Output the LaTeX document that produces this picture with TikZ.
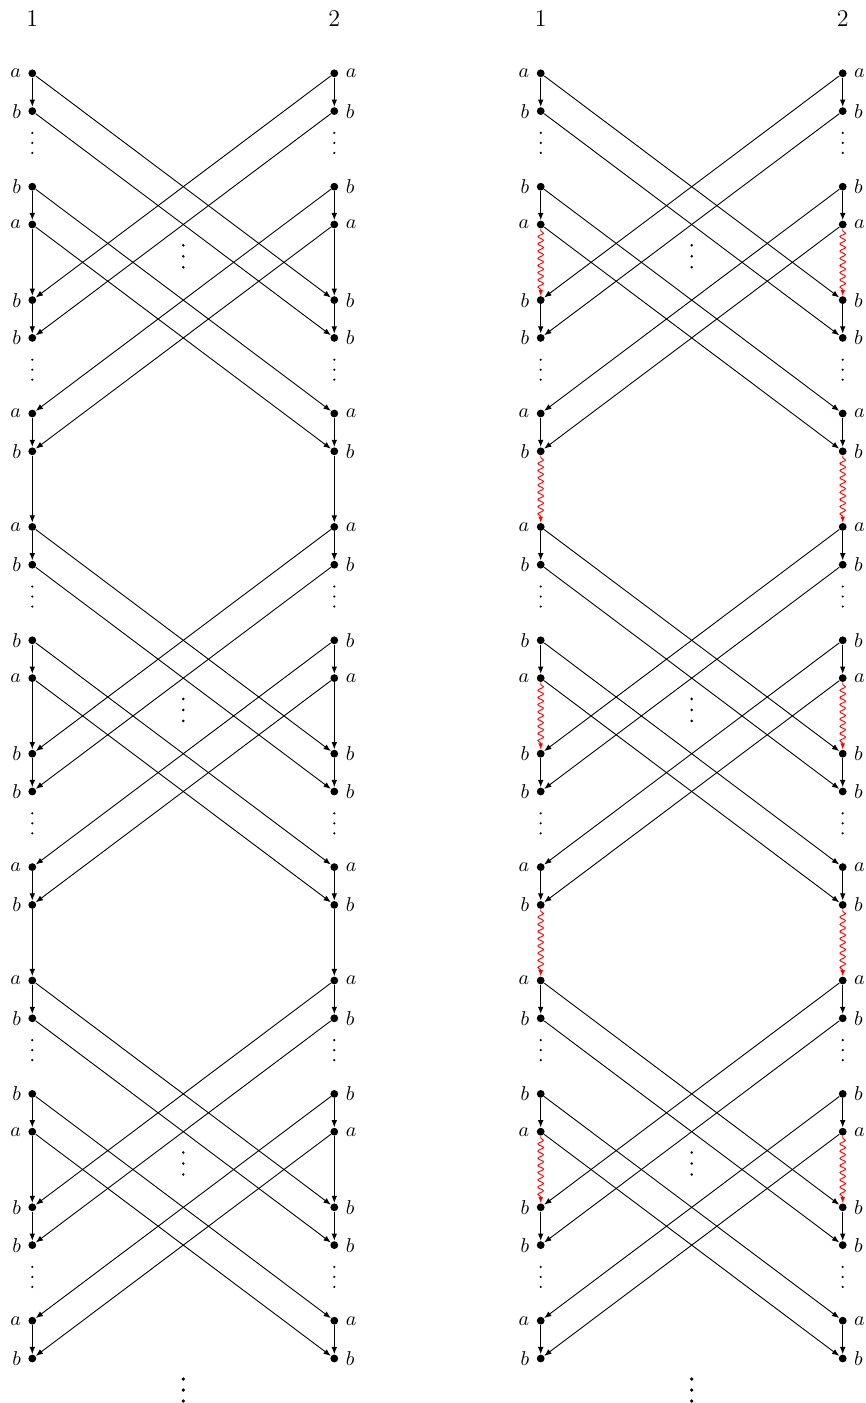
\documentclass[tikz,border=0pt]{standalone}
\usetikzlibrary{arrows.meta,calc,positioning,decorations.pathmorphing}

\newcommand{\drawladder}[3]{%
  % #1: name prefix, #2: x of column 1, #3: style of the long steps
  \node[font=\large] (#1h1) at (#2,18.5) {1};
  \node[font=\large] (#1h2) at ({#2+302},18.5) {2};
  \foreach \k/\lab in {0/a,1/b,3/b,4/a,6/b,7/b,9/a,10/b,12/a,13/b,15/b,16/a,
                       18/b,19/b,21/a,22/b,24/a,25/b,27/b,28/a,30/b,31/b,33/a,34/b}
  {
    \node[vtx,label=left:$\lab$] (#1a\k) at (#2,{73.3+37.8*\k}) {};
    \node[vtx,label=right:$\lab$] (#1b\k) at ({#2+302},{73.3+37.8*\k}) {};
  }
  % steps down each column
  \foreach \k in {0,3,...,33}
  {
    \pgfmathtruncatemacro\nxt{\k+1}
    \draw[->] (#1a\k) -- (#1a\nxt);
    \draw[->] (#1b\k) -- (#1b\nxt);
  }
  \foreach \k in {4,10,...,28}
  {
    \pgfmathtruncatemacro\nxt{\k+2}
    \draw[#3] (#1a\k) -- (#1a\nxt);
    \draw[#3] (#1b\k) -- (#1b\nxt);
  }
  % crossing messages
  \foreach \k in {0,1,3,4,12,13,15,16,24,25,27,28}
  {
    \pgfmathtruncatemacro\nxt{\k+6}
    \draw[->] (#1a\k) -- (#1b\nxt);
    \draw[->] (#1b\k) -- (#1a\nxt);
  }
  % dots
  \foreach \k in {2,8,...,32}
    \foreach \d in {-10,0,10}
    {
      \fill (#2,{67.3+37.8*\k+\d}) circle (0.6pt);
      \fill ({#2+302},{67.3+37.8*\k+\d}) circle (0.6pt);
    }
  \foreach \k in {5,17,29}
    \foreach \d in {-11,0,11}
      \fill ({#2+151},{67.3+37.8*\k+\d}) circle (0.7pt);
  \foreach \d in {-11,0,11}
    \fill ({#2+151},{1390+\d}) circle (0.9pt);
}

\begin{document}
\begin{tikzpicture}[
  x=0.5pt,y=-0.5pt,
  >={Latex[length=3.6pt,width=2.8pt]},
  line width=0.45pt,
  vtx/.style={circle,fill,inner sep=0pt,minimum size=3.9pt},
  snakearr/.style={red,-{Latex[length=3pt,width=2.4pt]},decorate,
    decoration={snake,amplitude=1.4pt,segment length=3.6pt,
      pre length=1pt,post length=3pt}}
]%
  \useasboundingbox (0,0) rectangle (866,1403);

  \drawladder{l}{32.3}{->}
  \drawladder{r}{540.7}{snakearr}
\end{tikzpicture}
\end{document}
